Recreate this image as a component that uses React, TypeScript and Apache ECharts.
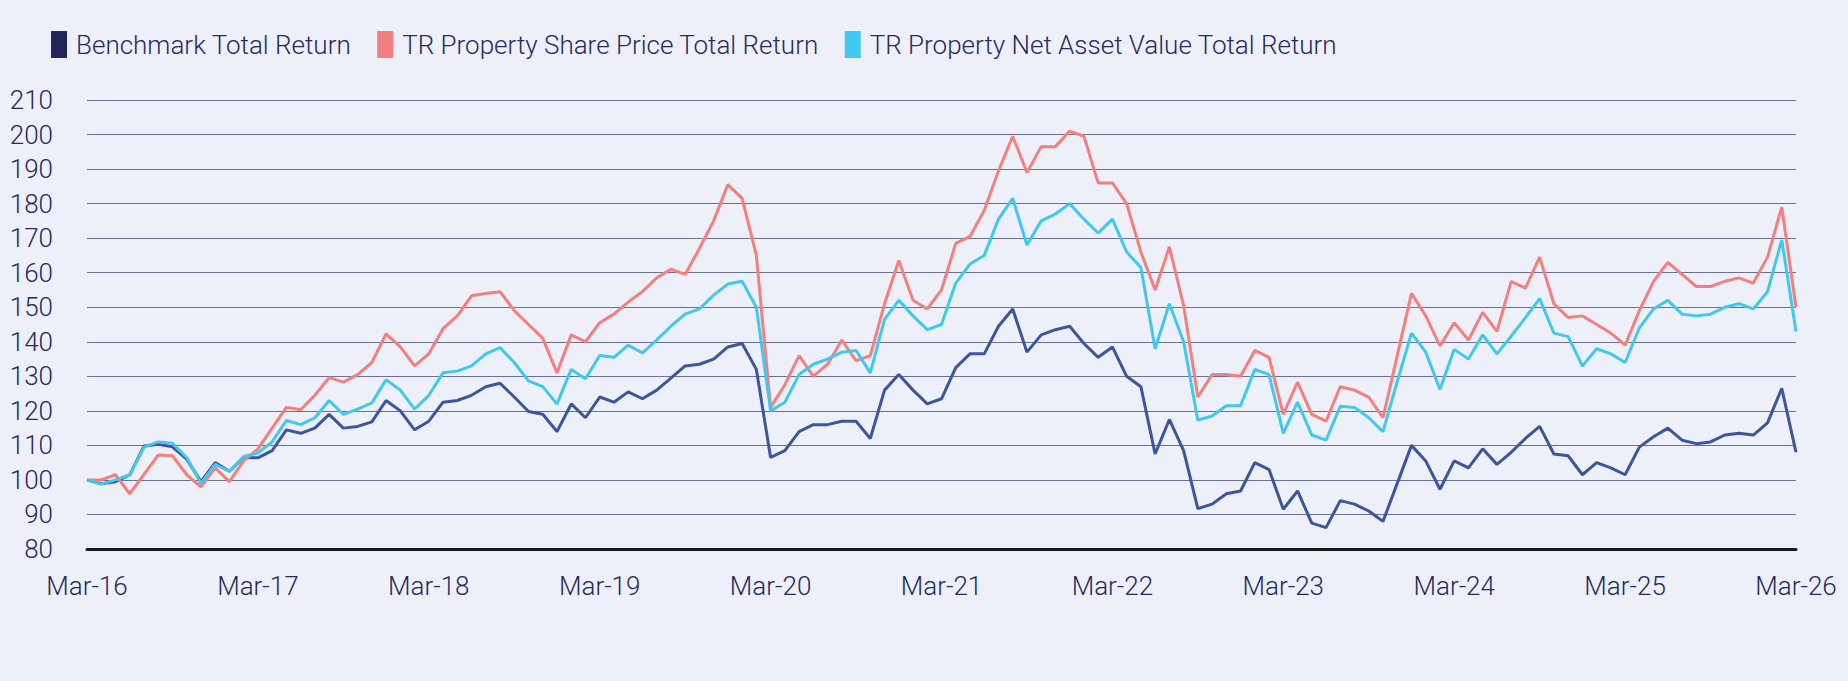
import React, { useEffect, useRef } from "react";
import * as echarts from "echarts";

const yearLabels = ["Mar-16","Mar-17","Mar-18","Mar-19","Mar-20","Mar-21","Mar-22","Mar-23","Mar-24","Mar-25","Mar-26"];

const benchmark = [100,98.9,99.5,101.5,109.8,110.3,109.6,106,99.5,105,102.5,106.5,
  106.4,108.5,114.5,113.5,115,119,115,115.5,116.8,123,120,114.5,
  117,122.5,123,124.5,127,128,124,119.8,119,114,122,118,
  124,122.5,125.5,123.5,126,129.5,133,133.5,135,138.5,139.5,132,
  106.5,108.5,114,116,116,117,117,112,126,130.5,126,122,
  123.5,132.5,136.5,136.5,144.5,149.5,137,142,143.5,144.5,139.5,135.5,
  138.5,130,127,107.5,117.5,108.5,91.7,93,96,96.8,105,103,
  91.5,96.8,87.5,86.2,94,93,91,88,99,110,105.5,97.3,
  105.5,103.5,109,104.5,108,112,115.5,107.5,107,101.5,105,103.5,
  101.5,109.5,112.5,115,111.5,110.5,111,113,113.5,113,116.5,126.5,108];
const sharePrice = [100,100,101.5,96,101.6,107.2,107,101.5,98,103.5,99.5,105.5,
  109,115,121,120.3,124.5,129.6,128.3,130.5,134,142.3,138.5,133,
  136.5,143.8,147.5,153.3,154,154.5,149,145,141,131,142,140,
  145.5,148,151.5,154.5,158.5,161,159.5,167,175,185.5,181.5,165,
  121,127.5,136,130,133.5,140.5,134.5,136,151,163.5,152,149.5,
  155,168.5,170.5,178,189.5,199.5,189,196.5,196.5,201,199.5,186,
  186,180,166,155,167.5,150.5,124,130.5,130.5,130,137.5,135.5,
  119,128.3,119,117,127,126,124,118,136,154,147.5,138.8,
  145.5,140.5,148.5,143,157.5,155.5,164.5,151,147,147.5,145,142.5,
  139,149,157.5,163,159.5,156,156,157.5,158.5,157,164.5,179,150];
const nav = [100,98.8,100,101.5,109.5,111,110.6,106.5,99,104.5,102.5,106.8,
  107.8,111,117.2,116,118,123,119,120.5,122.3,129,126,120.5,
  124.5,131,131.5,133,136.5,138.3,134,128.7,127,122,132,129.3,
  136,135.5,139,136.8,140.5,144.5,148,149.5,153.5,156.7,157.5,150,
  120,122.5,130.5,133.5,135,137,137.5,131,146.5,152,147.5,143.5,
  145,157,162.5,165,175.5,181.5,168,175,177,180,175.5,171.5,
  175.5,166,161.5,138,151,140,117.3,118.5,121.5,121.5,132,130.5,
  113.5,122.5,113,111.5,121.3,121,118,114,128.5,142.5,137,126.2,
  137.8,135,142,136.5,141.6,147,152.5,142.5,141.5,133,138,136.5,
  134,144,149.5,152,148,147.5,148,150,151,149.5,154.5,169.5,143];

const seriesNames = [
  "Benchmark Total Return",
  "TR Property Share Price Total Return",
  "TR Property Net Asset Value Total Return",
];

const xLabels = benchmark.map((_, i) => (i % 12 === 0 ? yearLabels[i / 12] : ""));

export default function App() {
  const ref = useRef<HTMLDivElement>(null);
  useEffect(() => {
    document.body.style.margin = "0";
    const chart = echarts.init(ref.current!, null, { renderer: "svg" });
    const mk = (name: string, data: number[], color: string, lineColor: string) => ({
      name, type: "line", data, symbol: "none",
      itemStyle: { color },
      lineStyle: { color: lineColor, width: 3 },
    });
    const txt = { fontSize: 26, color: "#262a5e", fontFamily: "Roboto", fontWeight: 300 };
    chart.setOption({
      animation: false,
      backgroundColor: "#edf0f8",
      textStyle: { fontFamily: "Roboto" },
      legend: {
        left: 46, top: 26, itemWidth: 16, itemHeight: 27, itemGap: 26,
        icon: "rect",
        textStyle: { ...txt, padding: [0, 0, 0, 4] },
      },
      grid: { left: 87, right: 52, top: 100, bottom: 132 },
      xAxis: {
        type: "category", data: xLabels, boundaryGap: false,
        axisLine: { onZero: false, lineStyle: { color: "#1a1a1a", width: 3 } },
        axisTick: { show: false },
        axisLabel: { interval: 0, margin: 24, ...txt },
      },
      yAxis: {
        type: "value", min: 80, max: 210, interval: 10,
        axisLine: { show: false }, axisTick: { show: false },
        axisLabel: { margin: 34, ...txt },
        splitLine: { lineStyle: { color: "#6a7092", width: 1 } },
      },
      series: [
        mk(seriesNames[0], benchmark, "#21255a", "#3d55a0"),
        mk(seriesNames[1], sharePrice, "#f47f7f", "#f47f7f"),
        mk(seriesNames[2], nav, "#40c8f0", "#40c8f0"),
      ],
    });
    return () => chart.dispose();
  }, []);
  return <div ref={ref} style={{ width: 1848, height: 681 }} />;
}
